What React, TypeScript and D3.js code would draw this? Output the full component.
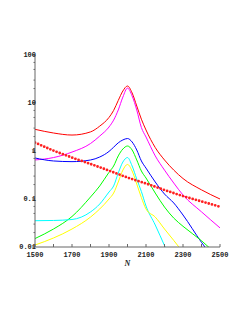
import React, { useEffect, useRef } from 'react';
import * as d3 from 'd3';

const nValues = [1500, 1600, 1700, 1800, 1850, 1900, 1925, 1950, 1975, 2000, 2025, 2050, 2075, 2100, 2150, 2200, 2250, 2300, 2400, 2500];

const redCurve = [2.83, 2.37, 2.15, 2.5, 3.3, 5.0, 7.0, 11.3, 17.8, 22.6, 16.2, 8.66, 4.6, 2.74, 1.18, 0.65, 0.40, 0.267, 0.155, 0.1];
const magentaCurve = [0.65, 0.73, 0.95, 1.43, 2.05, 3.16, 4.4, 7.15, 13.3, 20.5, 14, 7.15, 3.09, 1.96, 0.79, 0.40, 0.215, 0.121, 0.054, 0.025];
const blueCurve = [0.715, 0.62, 0.60, 0.65, 0.75, 0.98, 1.2, 1.48, 1.7, 1.82, 1.54, 1.05, 0.62, 0.44, 0.226, 0.127, 0.0826, 0.0464, 0.0125, 0.004];
const greenCurve = [0.015, 0.0237, 0.0432, 0.11, 0.187, 0.36, 0.487, 0.79, 1.1, 1.27, 1.05, 0.65, 0.383, 0.274, 0.133, 0.068, 0.04, 0.027, 0.0135, 0.006];
const cyanCurve = [0.0353, 0.0357, 0.0374, 0.0537, 0.0787, 0.14, 0.187, 0.348, 0.59, 0.73, 0.487, 0.26, 0.143, 0.0715, 0.0287, 0.0107, 0.004, 0.002, 0.001, 0.001];
const yellowCurve = [0.011, 0.0154, 0.0237, 0.042, 0.062, 0.1, 0.133, 0.226, 0.40, 0.525, 0.383, 0.205, 0.107, 0.062, 0.042, 0.0237, 0.0137, 0.0078, 0.003, 0.001];

const dotN = [1500, 1600, 1700, 1800, 1900, 2000, 2100, 2200, 2300, 2400, 2500];
const dotCurve = [1.5, 1.02, 0.73, 0.536, 0.39, 0.28, 0.21, 0.154, 0.115, 0.089, 0.069];

const xTicks = [1500, 1600, 1700, 1800, 1900, 2000, 2100, 2200, 2300, 2400, 2500];
const xLabels = ['1500', '1700', '1900', '2100', '2300', '2500'];
const yMajor = [0.01, 0.1, 1, 10, 100];
const yLabels = ['0.01', '0.1', '1', '10', '100'];
const minorMult = [2, 3, 5, 7];

const series = [
  { vals: redCurve, color: '#ff0000' },
  { vals: magentaCurve, color: '#ff00ff' },
  { vals: blueCurve, color: '#0000ff' },
  { vals: greenCurve, color: '#00ff00' },
  { vals: cyanCurve, color: '#00ffff' },
  { vals: yellowCurve, color: '#ffff00' },
];

const App = () => {
  const ref = useRef(null);

  useEffect(() => {
    const svg = d3.select(ref.current);
    svg.selectAll('*').remove();

    const left = 35, right = 220, top = 55, bottom = 247;
    const x = d3.scaleLinear().domain([1500, 2500]).range([left, right]);
    const y = d3.scaleLog().domain([0.01, 100]).range([bottom, top]);

    svg.append('clipPath').attr('id', 'plotclip')
      .append('rect').attr('x', left).attr('y', top - 2).attr('width', right - left + 2).attr('height', bottom - top + 2);

    const line = d3.line()
      .x(d => x(d[0]))
      .y(d => y(d[1]))
      .curve(d3.curveMonotoneX);

    const g = svg.append('g').attr('clip-path', 'url(#plotclip)');

    series.forEach(s => {
      g.append('path')
        .attr('d', line(nValues.map((n, i) => [n, s.vals[i]])))
        .attr('fill', 'none')
        .attr('stroke', s.color)
        .attr('stroke-width', 1);
    });

    // dotted red line
    g.append('path')
      .attr('d', line(dotN.map((n, i) => [n, dotCurve[i]])))
      .attr('fill', 'none')
      .attr('stroke', '#ff2020')
      .attr('stroke-width', 2.8)
      .attr('stroke-linecap', 'round')
      .attr('stroke-dasharray', '0 3.35');

    const axisColor = '#666';

    // y axis
    svg.append('line').attr('x1', left).attr('x2', left).attr('y1', top).attr('y2', bottom)
      .attr('stroke', axisColor).attr('stroke-width', 1);
    yMajor.forEach((v, i) => {
      svg.append('line').attr('x1', left - 3).attr('x2', left).attr('y1', y(v)).attr('y2', y(v))
        .attr('stroke', axisColor);
      svg.append('text').attr('x', left + 1).attr('y', y(v)).attr('dy', '0.35em')
        .attr('text-anchor', 'end')
        .style('font-family', '"Liberation Mono", monospace')
        .style('font-size', '7px').style('font-weight', 'bold').attr('fill', '#222')
        .text(yLabels[i]);
      if (v < 100) {
        minorMult.forEach(m => {
          svg.append('line').attr('x1', left - 1.5).attr('x2', left).attr('y1', y(v * m)).attr('y2', y(v * m))
            .attr('stroke', axisColor);
        });
      }
    });

    // x axis
    svg.append('line').attr('x1', left).attr('x2', right).attr('y1', bottom).attr('y2', bottom)
      .attr('stroke', axisColor).attr('stroke-width', 1);
    xTicks.forEach(t => {
      svg.append('line').attr('x1', x(t)).attr('x2', x(t)).attr('y1', bottom - 3).attr('y2', bottom)
        .attr('stroke', axisColor);
    });
    xLabels.forEach(l => {
      svg.append('text').attr('x', x(+l)).attr('y', 254.5).attr('dy', '0.35em')
        .attr('text-anchor', 'middle')
        .style('font-family', '"Liberation Mono", monospace')
        .style('font-size', '7px').style('font-weight', 'bold').attr('fill', '#222')
        .text(l);
    });

    svg.append('text').attr('x', x(2000)).attr('y', 263).attr('dy', '0.35em')
      .attr('text-anchor', 'middle')
      .style('font-family', '"Liberation Serif", serif')
      .style('font-size', '8px').style('font-style', 'italic').style('font-weight', 'bold')
      .attr('fill', '#222')
      .text('N');
  }, []);

  return (
    <svg ref={ref} width={245} height={317}
      style={{ position: 'absolute', left: 0, top: 0, background: '#fff' }} />
  );
};

export default App;
